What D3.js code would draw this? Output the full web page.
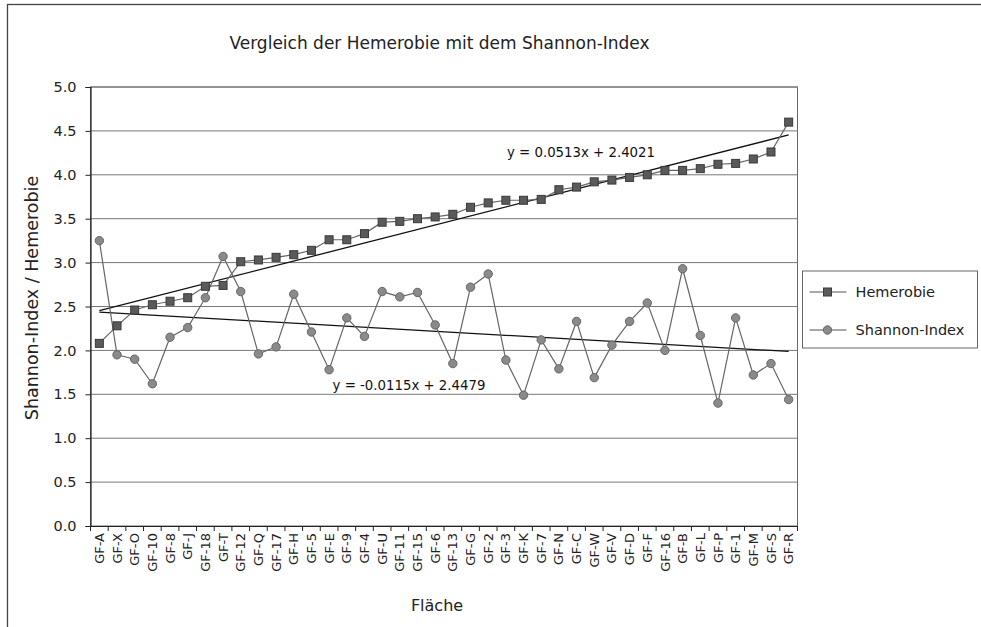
<!DOCTYPE html>
<html>
<head>
<meta charset="utf-8">
<title>Vergleich der Hemerobie mit dem Shannon-Index</title>
<script src="https://cdn.jsdelivr.net/npm/d3@7"></script>
<style>
    html, body { margin: 0; padding: 0; background: #fff; }
    svg { display: block; font-family: 'DejaVu Sans', Verdana, sans-serif; }
</style>
</head>
<body>
<div id="chart-div"></div>
<script>
var categories = ['GF-A', 'GF-X', 'GF-O', 'GF-10', 'GF-8', 'GF-J', 'GF-18', 'GF-T', 'GF-12', 'GF-Q',
    'GF-17', 'GF-H', 'GF-5', 'GF-E', 'GF-9', 'GF-4', 'GF-U', 'GF-11', 'GF-15', 'GF-6',
    'GF-13', 'GF-G', 'GF-2', 'GF-3', 'GF-K', 'GF-7', 'GF-N', 'GF-C', 'GF-W', 'GF-V',
    'GF-D', 'GF-F', 'GF-16', 'GF-B', 'GF-L', 'GF-P', 'GF-1', 'GF-M', 'GF-S', 'GF-R'];

var hemerobie = [2.08, 2.28, 2.46, 2.52, 2.56, 2.60, 2.73, 2.74, 3.01, 3.03,
    3.06, 3.09, 3.14, 3.26, 3.26, 3.33, 3.46, 3.47, 3.50, 3.52,
    3.55, 3.63, 3.68, 3.71, 3.71, 3.72, 3.83, 3.86, 3.92, 3.94,
    3.97, 4.00, 4.05, 4.05, 4.07, 4.12, 4.13, 4.18, 4.26, 4.60];

var shannon = [3.25, 1.95, 1.90, 1.62, 2.15, 2.26, 2.60, 3.07, 2.67, 1.96,
    2.04, 2.64, 2.21, 1.78, 2.37, 2.16, 2.67, 2.61, 2.66, 2.29,
    1.85, 2.72, 2.87, 1.89, 1.49, 2.12, 1.79, 2.33, 1.69, 2.06,
    2.33, 2.54, 2.00, 2.93, 2.17, 1.40, 2.37, 1.72, 1.85, 1.44];

var seriesNames = ['Hemerobie', 'Shannon-Index'];
var trendSlopes = [0.0513, -0.0115];
var trendIntercepts = [2.4021, 2.4479];
var trendLabels = ['y = 0.0513x + 2.4021', 'y = -0.0115x + 2.4479'];
var yTicks = [0, 0.5, 1, 1.5, 2, 2.5, 3, 3.5, 4, 4.5, 5];

(function () {
    'use strict';

    var width = 981;
    var height = 627;
    var margin = { left: 90.5, top: 87, right: 797.5, bottom: 526 };

    var svg = d3.select('#chart-div').append('svg')
        .attr('width', width)
        .attr('height', height);

    // outer frame, runs off the bottom and right of the picture
    svg.append('rect')
        .attr('x', 7.5).attr('y', 4.5)
        .attr('width', 1000).attr('height', 700)
        .style('fill', 'none').style('stroke', '#444').style('stroke-width', 1.3);

    var x = d3.scaleBand()
        .domain(categories)
        .range([margin.left, margin.right]);

    var y = d3.scaleLinear()
        .domain([0, 5])
        .range([margin.bottom, margin.top]);

    function cx (i) { return x(categories[i]) + x.bandwidth() / 2; }

    // plot area border
    svg.append('rect')
        .attr('x', margin.left).attr('y', margin.top)
        .attr('width', margin.right - margin.left)
        .attr('height', margin.bottom - margin.top)
        .style('fill', 'none').style('stroke', '#666').style('stroke-width', 1);

    // gridlines
    svg.append('g').selectAll('line')
        .data(yTicks.filter(function (d) { return d > 0; }))
        .enter().append('line')
        .attr('x1', margin.left).attr('x2', margin.right)
        .attr('y1', function (d) { return y(d); })
        .attr('y2', function (d) { return y(d); })
        .style('stroke', '#777').style('stroke-width', 1);

    // y axis
    var yAxis = svg.append('g')
        .attr('transform', 'translate(' + margin.left + ',0)')
        .call(d3.axisLeft(y).tickValues(yTicks).tickFormat(d3.format('.1f')).tickSize(5).tickPadding(9));
    yAxis.select('.domain').style('stroke', '#222').style('stroke-width', 1.2);
    yAxis.selectAll('.tick line').style('stroke', '#222');
    yAxis.selectAll('.tick text').style('font-size', '14.5px').style('fill', '#222')
        .style('font-family', "'DejaVu Sans', Verdana, sans-serif");

    // x axis
    var xAxis = svg.append('g')
        .attr('transform', 'translate(0,' + margin.bottom + ')')
        .call(d3.axisBottom(x).tickSize(0).tickPadding(0));
    xAxis.select('.domain').style('stroke', '#222').style('stroke-width', 1.2);
    xAxis.selectAll('.tick text')
        .attr('transform', 'rotate(-90)')
        .attr('x', -7).attr('y', 0).attr('dy', '0.35em')
        .style('text-anchor', 'end')
        .style('font-size', '13px').style('fill', '#222')
        .style('font-family', "'DejaVu Sans', Verdana, sans-serif");

    // category separator ticks
    svg.append('g').selectAll('line')
        .data(d3.range(categories.length + 1))
        .enter().append('line')
        .attr('x1', function (i) { return margin.left + i * x.step(); })
        .attr('x2', function (i) { return margin.left + i * x.step(); })
        .attr('y1', margin.bottom).attr('y2', margin.bottom + 5)
        .style('stroke', '#222');

    // trend lines
    var trendLine = d3.line()
        .x(function (d) { return cx(d[0]); })
        .y(function (d) { return y(d[1]); });

    trendSlopes.forEach(function (slope, s) {
        var pts = [0, categories.length - 1].map(function (i) {
            return [i, slope * (i + 1) + trendIntercepts[s]];
        });
        svg.append('path')
            .attr('d', trendLine(pts))
            .style('fill', 'none').style('stroke', '#111').style('stroke-width', 1.3);
    });

    // series lines
    var seriesLine = d3.line()
        .x(function (d, i) { return cx(i); })
        .y(function (d) { return y(d); });

    [hemerobie, shannon].forEach(function (values) {
        svg.append('path')
            .attr('d', seriesLine(values))
            .style('fill', 'none').style('stroke', '#666').style('stroke-width', 1.2);
    });

    // markers
    svg.append('g').selectAll('rect')
        .data(hemerobie)
        .enter().append('rect')
        .attr('x', function (d, i) { return cx(i) - 4; })
        .attr('y', function (d) { return y(d) - 4; })
        .attr('width', 8).attr('height', 8)
        .style('fill', '#5a5a5a').style('stroke', '#3a3a3a').style('stroke-width', 1);

    svg.append('g').selectAll('circle')
        .data(shannon)
        .enter().append('circle')
        .attr('cx', function (d, i) { return cx(i); })
        .attr('cy', function (d) { return y(d); })
        .attr('r', 4.2)
        .style('fill', '#8a8a8a').style('stroke', '#666').style('stroke-width', 1);

    // trend equations
    svg.append('text')
        .attr('x', 581).attr('y', 157)
        .attr('text-anchor', 'middle')
        .style('font-size', '13.3px').style('fill', '#111')
        .text(trendLabels[0]);
    svg.append('text')
        .attr('x', 409).attr('y', 390)
        .attr('text-anchor', 'middle')
        .style('font-size', '13.3px').style('fill', '#111')
        .text(trendLabels[1]);

    // titles
    svg.append('text')
        .attr('x', 439.5).attr('y', 49)
        .attr('text-anchor', 'middle')
        .style('font-size', '17px').style('fill', '#222')
        .text('Vergleich der Hemerobie mit dem Shannon-Index');

    svg.append('text')
        .attr('transform', 'translate(38,298) rotate(-90)')
        .attr('text-anchor', 'middle')
        .style('font-size', '17.5px').style('fill', '#222')
        .text('Shannon-Index / Hemerobie');

    svg.append('text')
        .attr('x', 437).attr('y', 611)
        .attr('text-anchor', 'middle')
        .style('font-size', '16px').style('fill', '#222')
        .text('Fläche');

    // legend
    var legend = svg.append('g').attr('transform', 'translate(802.5,271)');
    legend.append('rect')
        .attr('width', 175).attr('height', 77)
        .style('fill', '#fff').style('stroke', '#666').style('stroke-width', 1);

    var entries = legend.selectAll('g.entry')
        .data(seriesNames)
        .enter().append('g')
        .attr('class', 'entry')
        .attr('transform', function (d, i) { return 'translate(0,' + (21 + i * 38) + ')'; });

    entries.append('line')
        .attr('x1', 7).attr('x2', 44)
        .style('stroke', '#555').style('stroke-width', 1.2);

    entries.filter(function (d, i) { return i === 0; }).append('rect')
        .attr('x', 21).attr('y', -4).attr('width', 8).attr('height', 8)
        .style('fill', '#5a5a5a').style('stroke', '#3a3a3a');

    entries.filter(function (d, i) { return i === 1; }).append('circle')
        .attr('cx', 25).attr('r', 4.2)
        .style('fill', '#8a8a8a').style('stroke', '#666');

    entries.append('text')
        .attr('x', 53).attr('dy', '0.35em')
        .style('font-size', '14.5px').style('fill', '#222')
        .text(function (d) { return d; });
})();
</script>
</body>
</html>
